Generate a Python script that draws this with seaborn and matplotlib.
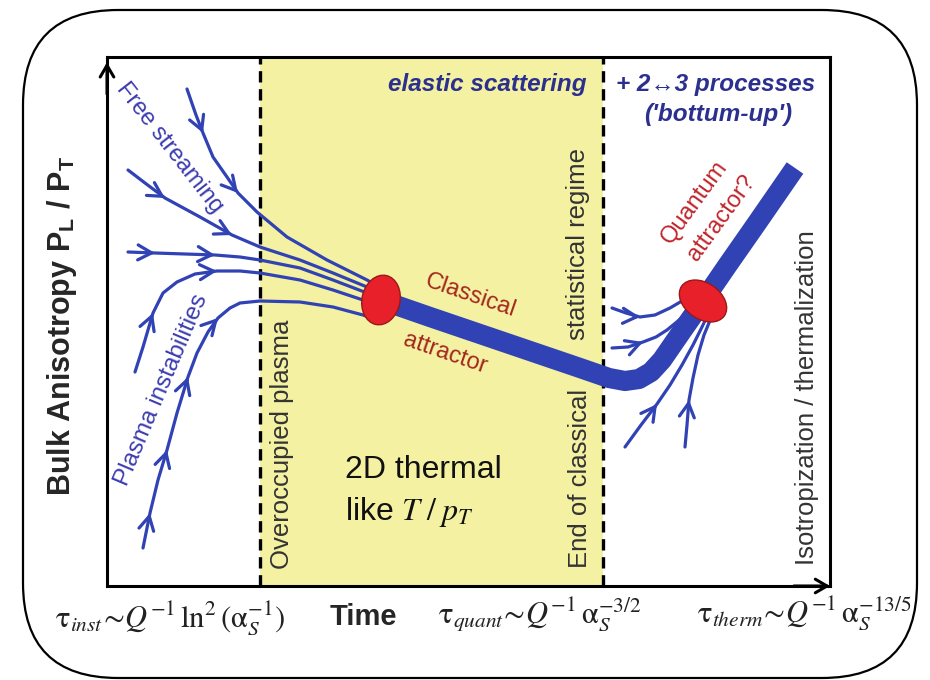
import numpy as np
import matplotlib
matplotlib.use("Agg")
import matplotlib.pyplot as plt
import matplotlib.patheffects as pe
from matplotlib.patches import Ellipse, FancyBboxPatch
import seaborn as sns

# ---- flow-line waypoints (time, anisotropy) in plot units --------------------
stream_a_t = [80, 89, 96, 106, 120, 131, 150, 180, 220, 260, 272]
stream_a_y = [497, 471, 453, 429, 409, 393, 374, 349, 326, 306, 299]
stream_b_t = [21, 38, 58, 93, 125, 153, 193, 226, 260, 272]
stream_b_y = [416, 403, 388, 369, 351, 339, 326, 313, 299, 294]
stream_c_t = [21, 48, 78, 108, 133, 153, 193, 226, 260, 272]
stream_c_y = [334, 333, 332, 331, 329, 326, 318, 306, 293, 289]
inst_a_t = [28, 36, 46, 56, 70, 88, 110, 133, 153, 193, 226, 256, 270]
inst_a_y = [214, 239, 273, 293, 304, 312, 315, 315, 313, 306, 296, 286, 281]
inst_b_t = [36, 43, 51, 60, 70, 81, 90, 101, 111, 123, 133, 153, 193, 226, 256, 270]
inst_b_y = [38, 73, 106, 136, 173, 209, 233, 254, 268, 278, 283, 285, 284, 279, 271, 266]

# late-time flows into the quantum attractor
late_a_t = [505, 519, 533, 548, 563, 580]
late_a_y = [278, 273, 269, 271, 278, 288]
late_b_t = [505, 521, 536, 549, 560, 571, 583]
late_b_y = [238, 239, 244, 249, 256, 265, 276]
late_c_t = [518, 534, 550, 563, 575, 586, 595, 602]
late_c_y = [139, 161, 182, 201, 221, 241, 259, 273]
late_d_t = [578, 580, 582, 586, 591, 597, 604]
late_d_y = [139, 161, 186, 208, 231, 251, 268]

# classical attractor trajectory
band_t = [274, 323, 373, 423, 473, 502, 518, 532, 544, 555, 575, 596, 620, 650, 688]
band_y = [286, 269, 252, 235, 218, 208, 205, 207, 214, 226, 255, 285, 320, 363, 418]

# regime boundaries
regime_edges = [153, 496]

BLUE = "#3042b4"
RED = "#e8202a"
TEXT_BLUE = "#3c3cb0"
NAVY = "#2b2f8e"
DARK_RED = "#a3281e"
GRAY = "#333333"
YELLOW = "#f4f1a2"

sns.set_theme(style="white")
plt.rcParams["font.family"] = ["Liberation Sans", "DejaVu Sans"]
plt.rcParams["mathtext.fontset"] = "stix"

fig = plt.figure(figsize=(9.3, 6.8), dpi=100)
fig.patch.set_facecolor("white")

# background layer in pixel units for the outer frame and the bottom labels
bg = fig.add_axes([0, 0, 1, 1], zorder=0)
bg.set_xlim(0, 930)
bg.set_ylim(680, 0)
bg.axis("off")
bg.add_patch(FancyBboxPatch((23, 10), 894, 668,
                            boxstyle="round,pad=0,rounding_size=95",
                            fc="none", ec="black", lw=1.6))

ax = fig.add_axes([107 / 930, 1 - 586 / 680, 723 / 930, 529 / 680], zorder=1)
ax.set_xlim(0, 723)
ax.set_ylim(0, 529)
ax.set_xticks([])
ax.set_yticks([])
for s in ax.spines.values():
    s.set_visible(True)
    s.set_color("black")
    s.set_linewidth(2.2)

# axis arrowheads
arrow_kw = dict(arrowstyle="->,head_length=0.6,head_width=0.35", color="black",
                lw=2.2, shrinkA=0, shrinkB=0, mutation_scale=14)
ax.annotate("", xy=(0, 0.99), xytext=(0, 0.93), xycoords="axes fraction",
            arrowprops=arrow_kw, annotation_clip=False)
ax.annotate("", xy=(1.0, 0), xytext=(0.95, 0), xycoords="axes fraction",
            arrowprops=arrow_kw, annotation_clip=False)

# overoccupied / classical-statistical regime
ax.axvspan(regime_edges[0], regime_edges[1], color=YELLOW, zorder=0, lw=0)
for e in regime_edges:
    ax.axvline(e, color="black", lw=2.4, ls=(0, (3.4, 2.0)), zorder=1)

# classical attractor band
sns.lineplot(x=band_t, y=band_y, sort=False, estimator=None, color=BLUE,
             linewidth=14.5, ax=ax, zorder=2)
ax.lines[-1].set_solid_capstyle("butt")
ax.lines[-1].set_solid_joinstyle("round")


def flow(t, y, heads, halo=False):
    sns.lineplot(x=t, y=y, sort=False, estimator=None, color=BLUE,
                 linewidth=2.3, ax=ax, zorder=3)
    if halo:
        ax.lines[-1].set_path_effects([pe.Stroke(linewidth=4.3, foreground="white"),
                                       pe.Normal()])
    for i in heads:
        dx = t[i + 1] - t[i - 1]
        dy = y[i + 1] - y[i - 1]
        n = np.hypot(dx, dy)
        ax.annotate("", xy=(t[i], y[i]), xytext=(t[i] - 6 * dx / n, y[i] - 6 * dy / n),
                    arrowprops=dict(arrowstyle="->,head_length=0.55,head_width=0.3",
                                    color=BLUE, lw=2.3, shrinkA=0, shrinkB=0,
                                    mutation_scale=18),
                    zorder=4)


flow(stream_a_t, stream_a_y, [2, 5])
flow(stream_b_t, stream_b_y, [2, 4])
flow(stream_c_t, stream_c_y, [1, 3])
flow(inst_a_t, inst_a_y, [2, 6])
flow(inst_b_t, inst_b_y, [1, 3, 5, 8])
flow(late_a_t, late_a_y, [2])
flow(late_b_t, late_b_y, [2])
flow(late_c_t, late_c_y, [2], halo=True)
flow(late_d_t, late_d_y, [2], halo=True)

# attractors
ax.add_patch(Ellipse((274, 286), 38, 50, angle=-12, fc=RED, ec="#9a1818", lw=1, zorder=5))
ax.add_patch(Ellipse((596, 285), 52, 36, angle=-35, fc=RED, ec="#9a1818", lw=1, zorder=5))

# in-plot labels
ax.text(63, 438, "Free streaming", rotation=-52, rotation_mode="anchor",
        ha="center", va="center", fontsize=17, color=TEXT_BLUE, zorder=6)
ax.text(55, 196, "Plasma instabilities", rotation=67, rotation_mode="anchor",
        ha="center", va="center", fontsize=17.5, color=TEXT_BLUE, zorder=6)
ax.text(380, 501, "elastic scattering", ha="center", va="center", fontsize=17.5,
        fontweight="bold", fontstyle="italic", color=NAVY, zorder=6)
ax.text(609, 501, "+ 2\u21943 processes", ha="center", va="center", fontsize=17.5,
        fontweight="bold", fontstyle="italic", color=NAVY, zorder=6)
ax.text(611, 471, "('bottum-up')", ha="center", va="center", fontsize=17.5,
        fontweight="bold", fontstyle="italic", color=NAVY, zorder=6)
ax.text(363, 290, "Classical", rotation=-19, rotation_mode="anchor",
        ha="center", va="center", fontsize=17, color=DARK_RED, zorder=6)
ax.text(338, 233, "attractor", rotation=-19, rotation_mode="anchor",
        ha="center", va="center", fontsize=17, color=DARK_RED, zorder=6)
ax.text(588, 384, "Quantum", rotation=54, rotation_mode="anchor",
        ha="center", va="center", fontsize=17, color="#c0262c", zorder=6)
ax.text(615, 368, "attractor?", rotation=54, rotation_mode="anchor",
        ha="center", va="center", fontsize=17, color="#c0262c", zorder=6)
for x, y, s in [(175, 142, "Overoccupied plasma"),
                (471, 342, "statistical regime"),
                (473, 108, "End of classical"),
                (700, 188, "Isotropization / thermalization")]:
    ax.text(x, y, s, rotation=90, ha="center", va="center", fontsize=18.5,
            color=GRAY, zorder=6)
ax.text(238, 116, "2D thermal", ha="left", va="center", fontsize=23, color="#111111", zorder=6)
ax.text(238, 74, r"like $T\;/\;p_T$", ha="left", va="center", fontsize=23,
        color="#111111", zorder=6)

# axis titles and time scales
bg.text(62, 326, r"Bulk Anisotropy P$_\mathregular{L}$ / P$_\mathregular{T}$",
        rotation=90, ha="center", va="center", fontsize=22, fontweight="bold")
bg.text(363, 625, "Time", ha="center", va="baseline", fontsize=21, fontweight="bold")
bg.text(55, 626, r"$\mathrm{\tau}_{inst}\!\sim\!Q^{-1}\,\ln^{2}(\mathrm{\alpha}_S^{-1})$",
        ha="left", va="baseline", fontsize=22, color="#222222")
bg.text(438, 623, r"$\mathrm{\tau}_{quant}\!\sim\!Q^{-1}\,\mathrm{\alpha}_S^{-3/2}$",
        ha="left", va="baseline", fontsize=22, color="#222222")
bg.text(697, 622, r"$\mathrm{\tau}_{therm}\!\sim\!Q^{-1}\,\mathrm{\alpha}_S^{-13/5}$",
        ha="left", va="baseline", fontsize=22, color="#222222")

fig.savefig("out.png", dpi=100, facecolor="white")
